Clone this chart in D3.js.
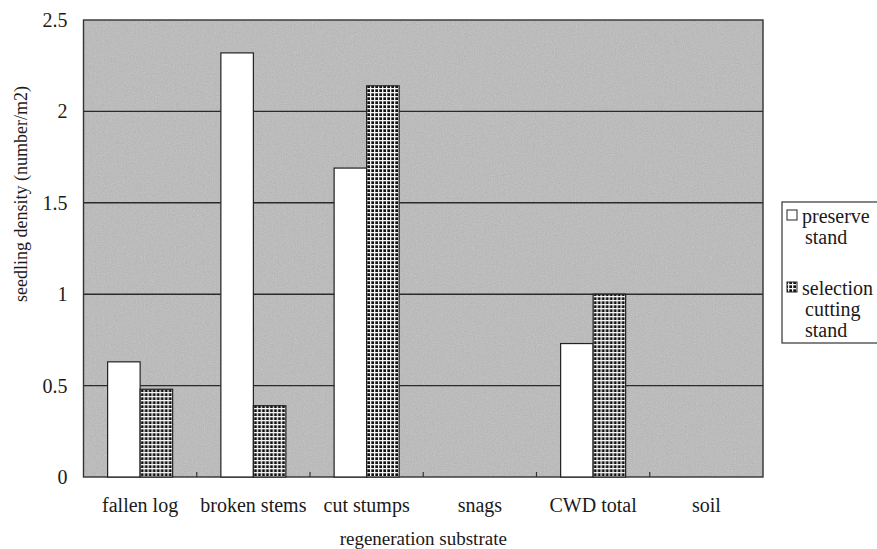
<!DOCTYPE html>
<html>
<head>
<meta charset="utf-8">
<script src="https://cdn.jsdelivr.net/npm/d3@7"></script>
<style>
  html, body { margin: 0; padding: 0; background: #fff; }
</style>
</head>
<body>
<svg id="chart" width="877" height="549"></svg>
<script>
// Seedling density by regeneration substrate
const categories = ["fallen log", "broken stems", "cut stumps", "snags", "CWD total", "soil"];
const seriesNames = ["preserve stand", "selection cutting stand"];
const preserveValues = [0.63, 2.32, 1.69, 0, 0.73, 0];
const selectionValues = [0.48, 0.39, 2.14, 0, 1.0, 0];
const yTickValues = [0, 0.5, 1, 1.5, 2, 2.5];
const yTickLabels = ["0", "0.5", "1", "1.5", "2", "2.5"];

const FONT = "'Liberation Serif', Tinos, 'Times New Roman', Times, 'DejaVu Serif', serif";
const INK = "#1a1a1a";

const svg = d3.select("#chart").style("font-family", FONT);
const plot = { left: 83.5, top: 20, right: 763, bottom: 477 };

// hatch pattern for the selection-cutting series
const defs = svg.append("defs");
const pat = defs.append("pattern")
  .attr("id", "grid4")
  .attr("patternUnits", "userSpaceOnUse")
  .attr("width", 4).attr("height", 4);
pat.append("rect").attr("width", 4).attr("height", 4).attr("fill", "#111");
pat.append("rect").attr("x", 0).attr("y", 0).attr("width", 4).attr("height", 1.3).attr("fill", "#f4f4f4");
pat.append("rect").attr("x", 0).attr("y", 0).attr("width", 1.3).attr("height", 4).attr("fill", "#f4f4f4");

// fine grain for the shaded plot area
const grain = defs.append("filter").attr("id", "grain")
  .attr("x", 0).attr("y", 0).attr("width", "100%").attr("height", "100%");
grain.append("feTurbulence").attr("type", "fractalNoise")
  .attr("baseFrequency", 0.9).attr("numOctaves", 2).attr("seed", 3).attr("result", "noise");
grain.append("feColorMatrix").attr("in", "noise").attr("type", "matrix")
  .attr("values", "0 0 0 0 0.72  0 0 0 0 0.72  0 0 0 0 0.72  0.35 0.35 0.35 0 -0.38")
  .attr("result", "speck");
grain.append("feComposite").attr("in", "speck").attr("in2", "SourceGraphic").attr("operator", "in").attr("result", "s2");
grain.append("feMerge").selectAll("feMergeNode").data(["SourceGraphic", "s2"]).join("feMergeNode").attr("in", d => d);

const x0 = d3.scaleBand().domain(categories).range([plot.left, plot.right]).paddingInner(0).paddingOuter(0);
const x1 = d3.scaleBand().domain(seriesNames).range([0, x0.bandwidth()]).paddingInner(0).paddingOuter(0.742);
const y = d3.scaleLinear().domain([0, 2.5]).range([plot.bottom, plot.top]);

// plot background
svg.append("rect")
  .attr("x", plot.left).attr("y", plot.top)
  .attr("width", plot.right - plot.left).attr("height", plot.bottom - plot.top)
  .attr("fill", "#b5b5b5")
  .attr("filter", "url(#grain)");

// horizontal gridlines
svg.append("g").selectAll("line")
  .data(yTickValues.filter(v => v > 0 && v < 2.5))
  .join("line")
  .attr("x1", plot.left).attr("x2", plot.right)
  .attr("y1", d => y(d)).attr("y2", d => y(d))
  .attr("stroke", "#2a2a2a").attr("stroke-width", 1.4);

// plot frame
svg.append("rect")
  .attr("x", plot.left).attr("y", plot.top)
  .attr("width", plot.right - plot.left).attr("height", plot.bottom - plot.top)
  .attr("fill", "none").attr("stroke", "#333").attr("stroke-width", 1.4);

// bars
const rows = categories.map((c, i) => ({ cat: c, vals: [preserveValues[i], selectionValues[i]] }));
const groups = svg.append("g").selectAll("g")
  .data(rows).join("g")
  .attr("transform", d => `translate(${x0(d.cat)},0)`);
groups.selectAll("rect")
  .data(d => d.vals.map((v, j) => ({ s: seriesNames[j], v, j })).filter(e => e.v > 0))
  .join("rect")
  .attr("x", e => x1(e.s))
  .attr("width", x1.bandwidth())
  .attr("y", e => y(e.v))
  .attr("height", e => y(0) - y(e.v))
  .attr("fill", e => e.j === 0 ? "#fff" : "url(#grid4)")
  .attr("stroke", "#222").attr("stroke-width", 1.2);

// x axis: inward ticks between categories, labels below
const xAxis = d3.axisBottom(x0).tickSize(0).tickPadding(0);
const gx = svg.append("g").attr("transform", `translate(0,${plot.bottom})`).call(xAxis)
  .attr("font-family", null).attr("font-size", null);
gx.select(".domain").remove();
gx.selectAll("text")
  .attr("y", 35).attr("dy", 0)
  .style("font-family", FONT).style("font-size", "20px")
  .attr("fill", INK);
svg.append("g").selectAll("line")
  .data(categories.slice(1))
  .join("line")
  .attr("x1", d => x0(d)).attr("x2", d => x0(d))
  .attr("y1", plot.bottom).attr("y2", plot.bottom - 5)
  .attr("stroke", "#333").attr("stroke-width", 1.2);

// y axis labels
const yAxis = d3.axisLeft(y).tickValues(yTickValues)
  .tickFormat((d, i) => yTickLabels[i]).tickSize(0).tickPadding(16);
const gy = svg.append("g").attr("transform", `translate(${plot.left},0)`).call(yAxis)
  .attr("font-family", null).attr("font-size", null);
gy.select(".domain").remove();
gy.selectAll("text").style("font-family", FONT).style("font-size", "20px").attr("fill", INK);

// axis titles
svg.append("text")
  .attr("x", (plot.left + plot.right) / 2).attr("y", 545)
  .attr("text-anchor", "middle")
  .style("font-family", FONT).style("font-size", "19px").attr("fill", INK)
  .text("regeneration substrate");
svg.append("text")
  .attr("transform", "translate(27,194) rotate(-90)")
  .attr("text-anchor", "middle")
  .style("font-family", FONT).style("font-size", "18px").attr("fill", INK)
  .text("seedling density (number/m2)");

// legend
const lg = svg.append("g");
lg.append("rect")
  .attr("x", 782).attr("y", 202).attr("width", 120).attr("height", 141)
  .attr("fill", "#fff").attr("stroke", "#333").attr("stroke-width", 1.2);
const legendLines = [["preserve", "stand"], ["selection", "cutting", "stand"]];
const legendTop = [223, 295];
legendLines.forEach((lines, i) => {
  lg.append("rect")
    .attr("x", 787).attr("y", legendTop[i] - 13).attr("width", 10).attr("height", 10)
    .attr("fill", i === 0 ? "#fff" : "url(#grid4)")
    .attr("stroke", "#222").attr("stroke-width", 1);
  lg.append("text")
    .attr("x", 802).attr("y", legendTop[i])
    .style("font-family", FONT).style("font-size", "20px").attr("fill", INK)
    .selectAll("tspan").data(lines).join("tspan")
    .attr("x", (d, k) => k === 0 ? 802 : 805)
    .attr("dy", (d, k) => k === 0 ? 0 : 21)
    .text(d => d);
});
</script>
</body>
</html>
